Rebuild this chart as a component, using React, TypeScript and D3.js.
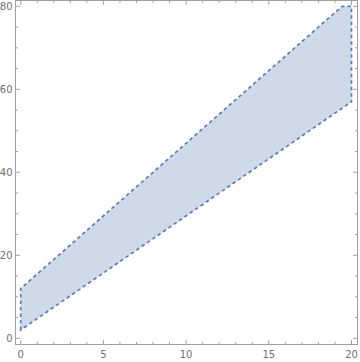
import React from "react";
import * as d3 from "d3";

const regionX = [0, 0, 19.43, 20, 20];
const regionY = [2, 12, 80, 80, 57];
const xMajor = [0, 5, 10, 15, 20];
const yMajor = [0, 20, 40, 60, 80];
const xMinor = d3.range(0, 21, 1);
const yMinor = d3.range(0, 81, 5);

export default function App() {
  const W = 360, H = 362;
  const x = d3.scaleLinear().domain([0, 20]).range([20.7, 351.5]);
  const y = d3.scaleLinear().domain([0, 80]).range([338.3, 6.3]);
  const left = 15.5, right = 357.5, top = 0.5, bottom = 344.5;
  const pts: [number, number][] = regionX.map((v, i) => [x(v), y(regionY[i])]);
  const line = d3.line().curve(d3.curveLinearClosed);
  const frameColor = "#a0a0a0";
  const textColor = "#707070";
  return (
    <svg width={W} height={H} style={{ position: "absolute", left: 0, top: 0 }}>
      <rect x={0} y={0} width={W} height={H} fill="white" />
      <path d={line(pts) || ""} fill="#cfdae8" stroke="none" />
      <path d={line(pts) || ""} fill="none" stroke="#5a7cb8" strokeWidth={1.7} strokeDasharray="3.5,3" />
      <rect x={left} y={top} width={right - left} height={bottom - top} fill="none" stroke={frameColor} strokeWidth={1} />
      {xMinor.map((v) => {
        const major = v % 5 === 0;
        const l = major ? 4.5 : 2.5;
        return (
          <g key={"x" + v}>
            <line x1={x(v)} x2={x(v)} y1={bottom} y2={bottom - l} stroke={frameColor} />
            <line x1={x(v)} x2={x(v)} y1={top} y2={top + l} stroke={frameColor} />
          </g>
        );
      })}
      {yMinor.map((v) => {
        const major = v % 20 === 0;
        const l = major ? 4.5 : 2.5;
        return (
          <g key={"y" + v}>
            <line x1={left} x2={left + l} y1={y(v)} y2={y(v)} stroke={frameColor} />
            <line x1={right} x2={right - l} y1={y(v)} y2={y(v)} stroke={frameColor} />
          </g>
        );
      })}
      {xMajor.map((v) => (
        <text key={"xl" + v} x={x(v)} y={bottom + 13.5} textAnchor="middle" fontSize={10} fontFamily="DejaVu Sans, sans-serif" fill={textColor}>
          {v}
        </text>
      ))}
      {yMajor.map((v) => (
        <text key={"yl" + v} x={left - 3} y={y(v) + 3.5} textAnchor="end" fontSize={10} fontFamily="DejaVu Sans, sans-serif" fill={textColor}>
          {v}
        </text>
      ))}
    </svg>
  );
}
